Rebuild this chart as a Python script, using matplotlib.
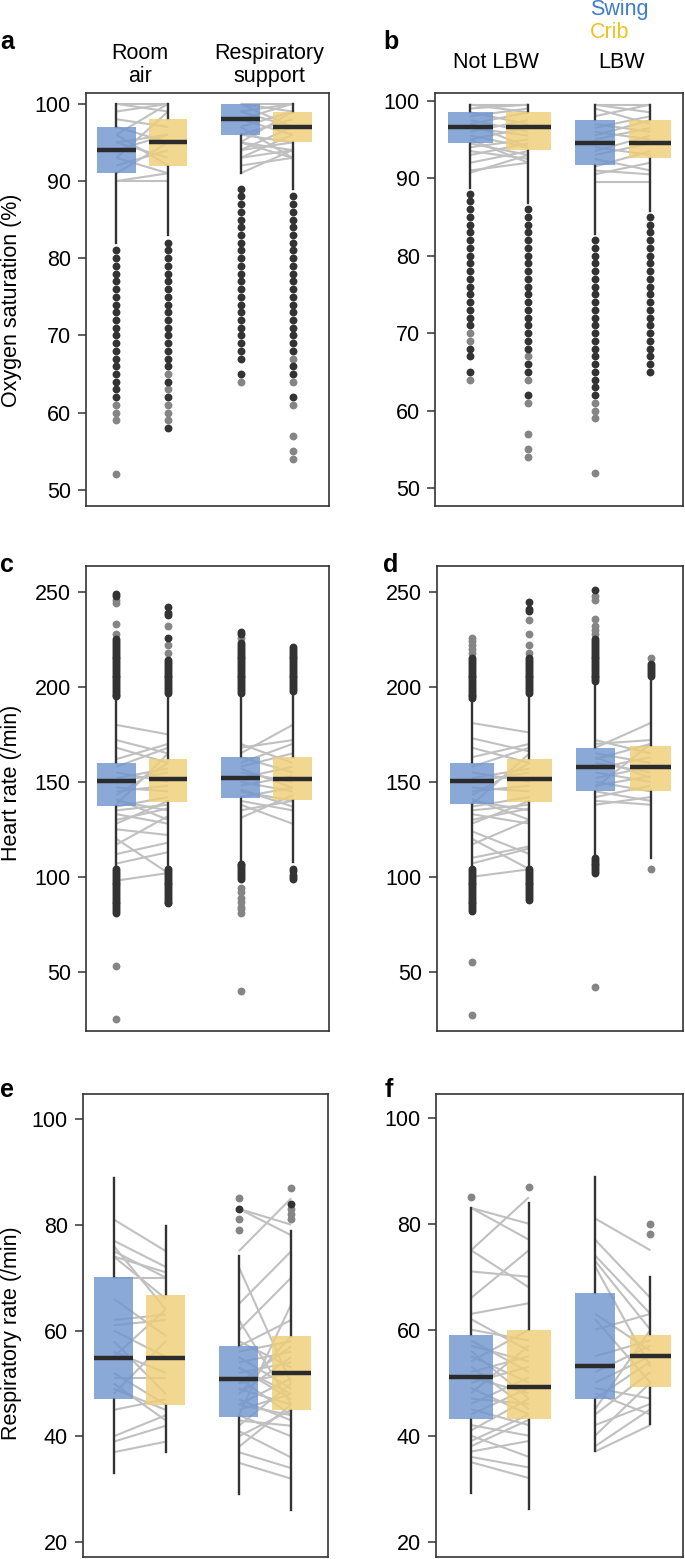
import numpy as np
import matplotlib
matplotlib.use("Agg")
import matplotlib.pyplot as plt

plt.rcParams['font.family'] = ['Liberation Sans', 'DejaVu Sans']

W, H = 685, 1559

# box stats: [whisker low, q1, median, q3, whisker high]
# order: group1 swing, group1 crib, group2 swing, group2 crib
a_box = [[82, 91, 94, 97, 100], [83, 92, 95, 98, 100],
         [91, 96, 98, 100, 100], [89, 95, 97, 99, 100]]
b_box = [[88.7, 94.6, 96.55, 98.5, 99.5], [86.8, 93.6, 96.55, 98.5, 99.5],
         [82.8, 91.7, 94.6, 97.5, 99.5], [85.8, 92.6, 94.6, 97.5, 99.5]]
c_box = [[104.5, 137.3, 150.5, 160.2, 194], [105.4, 139.5, 151.4, 162.1, 196],
         [108, 141.7, 152.3, 163, 196.7], [108, 140.5, 151.4, 163, 197.3]]
d_box = [[105.4, 138.4, 150.5, 160.2, 193.2], [105.4, 139.5, 151.4, 162.1, 196],
         [111.5, 145.4, 157.6, 168.1, 202], [109.8, 145.4, 157.6, 169, 205.5]]
e_box = [[33, 47, 54.9, 70.1, 88.9], [37, 46, 54.9, 66.8, 79.8],
         [29.1, 43.7, 50.9, 57, 74], [26.1, 44.9, 52, 58.9, 78.9]]
f_box = [[29.2, 43.1, 51.1, 59, 82.9], [26.2, 43.1, 49.1, 60, 83.9],
         [37.1, 47, 53.1, 66.9, 88.9], [42.2, 49.1, 55, 59, 69.9]]

# outliers (dark = many overlapping readings, light = few)
a_dark = [list(range(62, 82)), [58, 62, 64] + list(range(66, 83)),
          [65] + list(range(67, 90)), [62, 65, 66] + list(range(68, 89))]
a_light = [[52, 59, 60, 61], [59, 60, 61, 63, 65], [64], [54, 55, 57, 61, 64, 67]]
b_dark = [list(range(71, 89)) + [65, 67, 68], list(range(68, 87)) + [62, 65, 66],
          list(range(62, 83)), list(range(65, 86))]
b_light = [[64, 69, 70], [67, 64, 61, 57, 55, 54], [61, 60, 59, 52], []]
c_dark = [list(range(195, 226)) + list(range(81, 105)) + [248, 249],
          list(range(197, 215)) + list(range(86, 105)) + [226, 238, 239, 242],
          list(range(197, 224)) + list(range(99, 108)) + [228, 229],
          list(range(198, 222)) + [99, 100, 101, 103, 104]]
c_light = [[228, 233, 244, 246, 53, 25], [218, 222, 232],
           [226, 94, 92, 89, 87, 84, 83, 81, 40], []]
d_dark = [list(range(194, 216)) + list(range(82, 105)),
          list(range(197, 216)) + list(range(88, 105)) + [240, 241, 245],
          list(range(203, 226)) + list(range(102, 111)) + [251],
          list(range(206, 213))]
d_light = [[218, 220, 222, 224, 226, 55, 27], [218, 222, 228, 235],
           [228, 230, 232, 236, 246, 248, 42], [215, 104]]
e_dark = [[], [], [83], [84]]
e_light = [[], [], [85, 81, 79], [87, 83, 82, 81]]
f_dark = [[], [], [], []]
f_light = [[85], [87], [], [80, 78]]

# per-infant paired values (swing, crib)
a_pairs = [
    [(100, 100), (100, 99), (99, 100), (96, 100), (95, 96), (95, 93), (94, 96),
     (93, 91), (92, 94), (91, 95), (90, 90), (90, 91), (96, 92), (97, 95),
     (98, 97), (93, 99)],
    [(100, 100), (100, 99), (99, 100), (99, 97), (98, 100), (98, 96), (97, 99),
     (96, 98), (95, 94), (95, 93), (94, 95), (94, 97), (93, 94), (93, 96),
     (92, 93), (91, 94), (97, 93), (96, 95), (100, 97), (95, 99)]]
b_pairs = [
    [(99.5, 99.5), (99.5, 98.5), (99, 99.5), (98.5, 97), (98, 99), (97.5, 96),
     (97, 98.5), (96.5, 95.5), (96, 97.5), (95.5, 94), (95, 96.5), (94.5, 93),
     (94, 95), (93.5, 92.5), (93, 94.5), (92, 93.5), (91, 92), (90.7, 93),
     (95, 92), (97, 94)],
    [(99.5, 99.5), (99.5, 98.5), (99, 97), (98, 99.5), (97, 96), (96.5, 98),
     (96, 95), (95, 96.5), (94, 93), (93, 94.5), (92.5, 91), (91.5, 93.5),
     (91, 90.5), (90.5, 92), (89.5, 89.5), (95.5, 97.5), (93.5, 95.5)]]
c_pairs = [
    [(180, 175), (172, 165), (168, 160), (162, 170), (158, 168), (155, 150),
     (150, 155), (147, 145), (143, 160), (140, 135), (137, 142), (135, 138),
     (133, 128), (128, 140), (125, 122), (120, 102), (117, 132), (112, 118),
     (107, 113), (98, 102), (145, 148), (152, 157), (141, 130), (138, 165),
     (130, 136)],
    [(170, 160), (168, 172), (165, 180), (160, 170), (158, 165), (155, 150),
     (152, 158), (150, 145), (148, 153), (145, 140), (142, 147), (140, 135),
     (138, 128), (135, 140), (131, 143), (163, 155), (157, 147), (146, 137)]]
d_pairs = [
    [(181, 176), (173, 166), (168, 160), (163, 170), (158, 168), (155, 150),
     (150, 155), (147, 145), (143, 160), (140, 135), (137, 142), (135, 138),
     (133, 128), (128, 140), (124, 112), (120, 104), (117, 130), (110, 116),
     (107, 115), (100, 104), (145, 148), (152, 157), (141, 130), (138, 165),
     (130, 136)],
    [(172, 165), (170, 172), (168, 181), (165, 160), (162, 170), (160, 155),
     (157, 163), (155, 150), (152, 158), (150, 145), (148, 153), (145, 140),
     (142, 148), (140, 138), (138, 142), (163, 152), (147, 170)]]
e_pairs = [
    [(81, 75), (77, 72), (76, 64), (75, 70), (74, 71), (74, 66), (70, 70),
     (66, 59), (62, 63), (61, 62), (60, 55), (58, 48), (56, 52), (55, 64),
     (52, 46), (51, 51), (50, 43), (49, 45), (48, 58), (45, 47), (40, 44),
     (39, 42), (37, 39)],
    [(83, 80), (83, 78), (75, 85), (72, 50), (65, 75), (62, 46), (60, 70),
     (58, 53), (56, 58), (55, 49), (54, 56), (53, 47), (52, 54), (51, 44),
     (50, 57), (50, 52), (49, 46), (48, 55), (47, 43), (46, 51), (45, 48),
     (44, 65), (43, 42), (42, 50), (41, 36), (40, 45), (38, 46), (37, 34),
     (35, 32), (44, 40), (57, 62), (53, 48), (48, 59), (46, 44)]]
f_pairs = [
    [(83, 80), (83, 77), (75, 85), (75, 68), (71, 70), (66, 75), (63, 65),
     (62, 56), (60, 58), (58, 52), (57, 54), (56, 47), (55, 50), (54, 60),
     (53, 45), (52, 55), (51, 48), (50, 53), (49, 44), (48, 57), (47, 46),
     (46, 51), (45, 42), (44, 49), (42, 40), (41, 47), (40, 36), (38, 43),
     (37, 39), (36, 34), (35, 32), (39, 44)],
    [(81, 75), (77, 66), (74, 63), (73, 60), (72, 53), (63, 56), (62, 50),
     (60, 63), (55, 58), (52, 57), (50, 55), (49, 47), (48, 44), (47, 54),
     (45, 60), (44, 52), (42, 46), (40, 50), (38, 45), (37, 42)]]

blue = '#6e94ce'
yellow = '#efce76'
FS = 15.5

fig = plt.figure(figsize=(W / 100, H / 100), dpi=100)


def add_ax(x0, x1, y0, y1):
    return fig.add_axes([x0 / W, 1 - y1 / H, (x1 - x0) / W, (y1 - y0) / H])


def panel(ax, boxes, dark, light, pairs, xpos, widths, ylim, yticks):
    for k, prs in enumerate(pairs):
        x0, x1 = xpos[2 * k], xpos[2 * k + 1]
        for s, c in prs:
            ax.plot([x0, x1], [s, c], color='#c0c0c0', lw=1.5, zorder=1,
                    solid_capstyle='butt')
    stats = [dict(whislo=b[0], q1=b[1], med=b[2], q3=b[3], whishi=b[4], fliers=[])
             for b in boxes]
    bp = ax.bxp(stats, positions=xpos, widths=widths, patch_artist=True,
                showcaps=False, showfliers=False, manage_ticks=False,
                whiskerprops=dict(color='#333333', lw=1.7),
                medianprops=dict(color='#2b2b2b', lw=3.2, solid_capstyle='butt'))
    for patch, col in zip(bp['boxes'], [blue, yellow, blue, yellow]):
        patch.set_facecolor(col)
        patch.set_edgecolor('none')
        patch.set_alpha(0.8)
        patch.set_zorder(3)
    for w in bp['whiskers']:
        w.set_zorder(2)
    for m in bp['medians']:
        m.set_zorder(4)
    for x, dk, lt in zip(xpos, dark, light):
        ax.scatter([x] * len(lt), lt, s=32, color='#858585', linewidths=0, zorder=5)
        ax.scatter([x] * len(dk), dk, s=32, color='#333333', linewidths=0, zorder=5)
    ax.set_xlim(0, 1)
    ax.set_ylim(*ylim)
    ax.set_yticks(yticks)
    ax.set_xticks([])
    for sp in ax.spines.values():
        sp.set_color('#333333')
        sp.set_linewidth(1.2)
    ax.tick_params(axis='y', direction='out', length=6, width=1.1,
                   color='#333333', labelsize=FS, pad=5)


left_pos = [0.125, 0.338, 0.636, 0.850]
right_pos = [0.142, 0.376, 0.644, 0.868]
left_w = 0.158
right_w = [0.18, 0.18, 0.16, 0.168]

ax_a = add_ax(86, 329, 93, 506)
panel(ax_a, a_box, a_dark, a_light, a_pairs, left_pos, left_w, (47.9, 101.4),
      [50, 60, 70, 80, 90, 100])
ax_b = add_ax(435, 683, 93, 506)
panel(ax_b, b_box, b_dark, b_light, b_pairs, right_pos, right_w, (47.7, 101.0),
      [50, 60, 70, 80, 90, 100])
ax_c = add_ax(86, 329, 566, 1031)
panel(ax_c, c_box, c_dark, c_light, c_pairs, left_pos, left_w, (18.8, 263.7),
      [50, 100, 150, 200, 250])
ax_d = add_ax(437, 683, 566, 1031)
panel(ax_d, d_box, d_dark, d_light, d_pairs, right_pos, right_w, (18.8, 263.7),
      [50, 100, 150, 200, 250])
ax_e = add_ax(83, 328, 1094, 1557)
panel(ax_e, e_box, e_dark, e_light, e_pairs, left_pos, left_w, (17.2, 104.7),
      [20, 40, 60, 80, 100])
ax_f = add_ax(436, 683, 1094, 1557)
panel(ax_f, f_box, f_dark, f_light, f_pairs, right_pos, right_w, (17.1, 104.5),
      [20, 40, 60, 80, 100])


def ftext(x, y, s, **kw):
    fig.text(x / W, 1 - y / H, s, **kw)


for lab, x, y in [('a', 0, 42), ('b', 383, 42), ('c', 0, 565),
                  ('d', 383, 565), ('e', 0, 1090), ('f', 385, 1090)]:
    ftext(x, y, lab, fontsize=18, fontweight='bold', ha='left', va='center')

ftext(140, 65, 'Room\nair', fontsize=FS, ha='center', va='center', linespacing=1.15)
ftext(269, 65, 'Respiratory\nsupport', fontsize=FS, ha='center', va='center',
      linespacing=1.15)
ftext(496, 63, 'Not LBW', fontsize=FS, ha='center', va='center')
ftext(622, 63, 'LBW', fontsize=FS, ha='center', va='center')
ftext(590, 9, 'Swing', fontsize=FS, ha='left', va='center', color='#3d7cc9')
ftext(590, 33, 'Crib', fontsize=FS, ha='left', va='center', color='#f0c21e')

ftext(12, 300, 'Oxygen saturation (%)', fontsize=FS, rotation=90,
      ha='center', va='center')
ftext(12, 783, 'Heart rate (/min)', fontsize=FS, rotation=90,
      ha='center', va='center')
ftext(12, 1333, 'Respiratory rate (/min)', fontsize=FS, rotation=90,
      ha='center', va='center')

fig.savefig('out.png', dpi=100)
